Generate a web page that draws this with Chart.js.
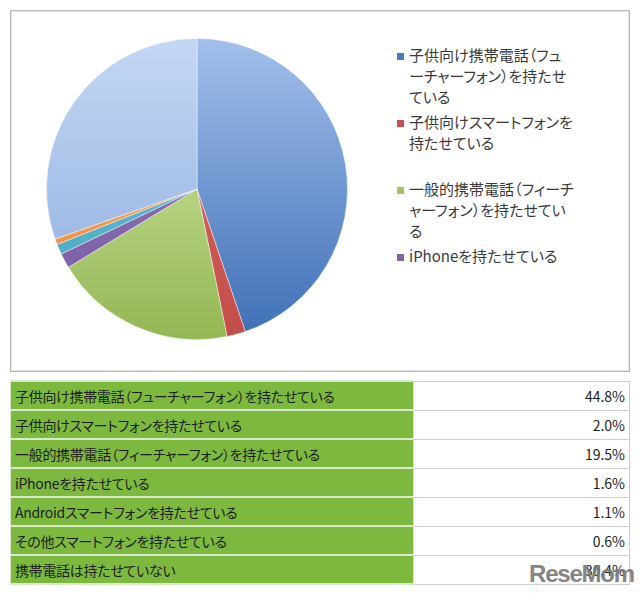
<!DOCTYPE html>
<html lang="ja">
<head>
<meta charset="utf-8">
<script src="https://cdn.jsdelivr.net/npm/chart.js@4"></script>
<style>
  html, body { margin: 0; padding: 0; background: #fff; }
  body { width: 640px; height: 593px; position: relative; overflow: hidden;
         font-family: "Noto Sans CJK JP", "Noto Sans", sans-serif; color: #333; }
  #box { position: absolute; left: 10px; top: 10px; width: 618px; height: 360px;
         border: 1px solid #b8b8b8; box-shadow: inset 0 0 0 1px #e4e4e4; }
  #pieWrap { position: absolute; left: 46px; top: 38px; width: 302px; height: 302px; }
  #legend { position: absolute; left: 395px; top: 44px; width: 200px; }
  .lg { position: relative; height: 67px; padding-left: 14px; font-size: 15px; line-height: 21px;
        width: 167px; line-break: anywhere; color: #3a3a3a; font-feature-settings: "palt"; }
  .lg i { position: absolute; left: 2px; top: 9px; width: 7px; height: 7px; }
  #tbl { position: absolute; left: 10px; top: 380px; width: 620px; border-collapse: collapse;
         font-size: 14px; color: #1e1e1e; }
  #tbl td { height: 27px; padding: 0 4px; border: 1px solid #cfcfcf; }
  #tbl td.k { background: #7db93f; width: 394px; border-color: #dbe9cc; border-width: 2px 1px;
              font-feature-settings: "palt"; letter-spacing: -0.3px; }
  #tbl td.v { text-align: right; }
  #wm { position: absolute; left: 529px; top: 560px; font-family: "Liberation Sans", Arial, sans-serif;
        font-weight: bold; font-size: 24px; letter-spacing: -1.2px; color: #7a7a7a; opacity: 0.92; }
</style>
</head>
<body>
<div id="box"></div>
<div id="pieWrap"><canvas id="pie"></canvas></div>
<div id="legend"></div>
<table id="tbl"></table>
<div id="wm">ReseMom</div>
<script>
const labels = [
  "子供向け携帯電話（フューチャーフォン）を持たせている",
  "子供向けスマートフォンを持たせている",
  "一般的携帯電話（フィーチャーフォン）を持たせている",
  "iPhoneを持たせている",
  "Androidスマートフォンを持たせている",
  "その他スマートフォンを持たせている",
  "携帯電話は持たせていない"
];
const values = [44.8, 2.0, 19.5, 1.6, 1.1, 0.6, 30.4];
const legendCount = 4; // the original legend only shows the first four entries

const topColors = ["#a3bfeb", "#e0706c", "#d9eeab", "#9a80c0", "#6cc3da", "#fba866", "#c3d8f4"];
const bottomColors = ["#3d6fb6", "#c24c48", "#94b755", "#7659a0", "#45a6c0", "#f08a3a", "#8dabdd"];
const legendColors = ["#4a7cc0", "#c9504c", "#a3c467", "#8064a2"];

const qs = (id) => document.getElementById(id);

function sliceColor(ctx) {
  const i = ctx.dataIndex;
  const area = ctx.chart.chartArea;
  if (!area) return bottomColors[i];
  const g = ctx.chart.ctx.createLinearGradient(0, area.top, 0, area.bottom);
  g.addColorStop(0, topColors[i]);
  g.addColorStop(1, bottomColors[i]);
  return g;
}

new Chart(qs("pie"), {
  type: "pie",
  data: {
    labels,
    datasets: [{
      data: values,
      backgroundColor: sliceColor,
      borderColor: "rgba(255,255,255,0.45)",
      borderWidth: 1
    }]
  },
  options: {
    responsive: true,
    maintainAspectRatio: false,
    animation: false,
    layout: { padding: 0 },
    plugins: { legend: { display: false }, tooltip: { enabled: false } }
  }
});

// legend (Excel style, wrapped text)
const legend = qs("legend");
labels.slice(0, legendCount).forEach((t, i) => {
  const d = document.createElement("div");
  d.className = "lg";
  d.innerHTML = `<i style="background:${legendColors[i]}"></i>`;
  d.appendChild(document.createTextNode(t));
  legend.appendChild(d);
});

// data table
const tbl = qs("tbl");
labels.forEach((t, i) => {
  const tr = document.createElement("tr");
  const k = document.createElement("td");
  k.className = "k";
  k.textContent = t;
  const v = document.createElement("td");
  v.className = "v";
  v.textContent = values[i].toFixed(1) + "%";
  tr.appendChild(k);
  tr.appendChild(v);
  tbl.appendChild(tr);
});
</script>
</body>
</html>
